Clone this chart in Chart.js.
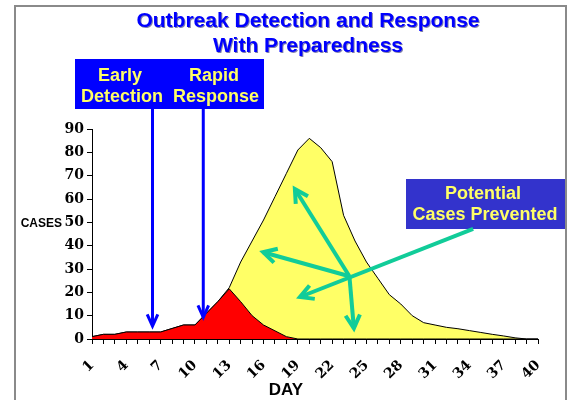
<!DOCTYPE html>
<html>
<head>
<meta charset="utf-8">
<script src="https://cdn.jsdelivr.net/npm/chart.js@4.4.1/dist/chart.umd.min.js"></script>
<style>
  html, body { margin: 0; padding: 0; background: #fff; }
  #chart { display: block; }
</style>
</head>
<body>
<canvas id="chart" width="568" height="400"></canvas>
<script>
'use strict';

// ─── data ─────────────────────────────────────────────────────────────────
const days = [1, 2, 3, 4, 5, 6, 7, 8, 9, 10, 11, 12, 13, 14, 15, 16, 17, 18, 19, 20,
              21, 22, 23, 24, 25, 26, 27, 28, 29, 30, 31, 32, 33, 34, 35, 36, 37, 38, 39, 40];
const labelDays = [1, 4, 7, 10, 13, 16, 19, 22, 25, 28, 31, 34, 37, 40];

// cases with preparedness (red)
const withPrep = [1, 2, 2, 3, 3, 3, 3, 4.5, 6, 6, 11, 16, 21.5, 16, 10, 6, 3.5, 1, 0, 0,
                  0, 0, 0, 0, 0, 0, 0, 0, 0, 0, 0, 0, 0, 0, 0, 0, 0, 0, 0, 0];
// cases without preparedness (yellow)
const withoutPrep = [1, 2, 2, 3, 3, 3, 3, 4.5, 6, 6, 11, 16, 22, 33, 42, 51, 61, 71, 81, 86,
                     82, 76, 53, 42, 33, 26, 19, 15, 10, 7, 6, 5, 4.4, 3.6, 2.8, 2, 1.3, 0.5, 0, 0];

const yMin = 0, yMax = 90, yStep = 10;

// ─── annotations: arrows in (day, cases) ─────────────────────────────────
const earlyArrow = { day: 6.29, tip: 5.5 };
const rapidArrow = { day: 10.73, tip: 9.3 };
const greenTail  = { day: 34.33, cases: 47.2 };
const greenHub   = { day: 23.51, cases: 26.9 };
const greenTips  = [
  { day: 19.18, cases: 18.0, fromTail: true },
  { day: 18.74, cases: 64.3 },
  { day: 15.97, cases: 37.2 },
  { day: 23.9,  cases: 4.6 }
];

const BLUE   = '#0000FF';
const YELLOW_TXT = '#FFFF66';
const GREEN  = '#11CC99';
const SANS   = '"Liberation Sans", Arial, sans-serif';

function drawArrow(ctx, x1, y1, x2, y2, color, width, head, spread) {
  const ang = Math.atan2(y2 - y1, x2 - x1);
  ctx.save();
  ctx.strokeStyle = color;
  ctx.lineWidth = width;
  ctx.lineJoin = 'miter';
  ctx.beginPath();
  ctx.moveTo(x1, y1);
  ctx.lineTo(x2, y2);
  ctx.stroke();
  ctx.beginPath();
  ctx.moveTo(x2 - head * Math.cos(ang - spread), y2 - head * Math.sin(ang - spread));
  ctx.lineTo(x2, y2);
  ctx.lineTo(x2 - head * Math.cos(ang + spread), y2 - head * Math.sin(ang + spread));
  ctx.stroke();
  ctx.restore();
}

function textLines(ctx, lines, font, color, align) {
  ctx.save();
  ctx.font = font;
  ctx.fillStyle = color;
  ctx.textAlign = align || 'center';
  ctx.textBaseline = 'alphabetic';
  lines.forEach(l => ctx.fillText(l[0], l[1], l[2]));
  ctx.restore();
}

// ─── slide decorations (frame, title, boxes, arrows) ────────────────────
const slidePlugin = {
  id: 'slide',
  afterDraw(chart) {
    const ctx = chart.ctx;
    const xs = chart.scales.x, ys = chart.scales.y;
    const px = d => xs.getPixelForValue(d - 1);
    const py = v => ys.getPixelForValue(v);

    // frame
    ctx.save();
    ctx.strokeStyle = '#8a8a8a';
    ctx.lineWidth = 2;
    ctx.beginPath();
    ctx.moveTo(15, 402); ctx.lineTo(15, 6); ctx.lineTo(566, 6); ctx.lineTo(566, 402);
    ctx.stroke();
    ctx.restore();

    // title
    ctx.save();
    ctx.shadowColor = 'rgba(0,0,90,0.5)';
    ctx.shadowOffsetX = 1;
    ctx.shadowOffsetY = 1;
    textLines(ctx, [
      ['Outbreak Detection and Response', 308, 27],
      ['With Preparedness', 308, 52]
    ], 'bold 21px ' + SANS, BLUE);
    ctx.restore();

    // left box
    ctx.fillStyle = BLUE;
    ctx.fillRect(75, 59, 189, 50);
    textLines(ctx, [
      ['Early', 120, 81], ['Detection', 122, 101.5],
      ['Rapid', 214, 81], ['Response', 216, 101.5]
    ], 'bold 18px ' + SANS, YELLOW_TXT);

    // right box
    ctx.fillStyle = '#3333CC';
    ctx.fillRect(406, 179, 159, 50);
    textLines(ctx, [
      ['Potential', 483, 199], ['Cases Prevented', 485, 220]
    ], 'bold 18px ' + SANS, YELLOW_TXT);

    // blue arrows
    drawArrow(ctx, px(earlyArrow.day), 109, px(earlyArrow.day), py(earlyArrow.tip), BLUE, 3, 13, 0.42);
    drawArrow(ctx, px(rapidArrow.day), 109, px(rapidArrow.day), py(rapidArrow.tip), BLUE, 3, 13, 0.42);

    // green arrows
    greenTips.forEach(t => {
      const from = t.fromTail ? greenTail : greenHub;
      drawArrow(ctx, px(from.day), py(from.cases), px(t.day), py(t.cases), GREEN, 4, 15, 0.5);
    });

    // axis titles
    textLines(ctx, [['CASES', 62, py(50) + 4.5]], 'bold 12px ' + SANS, '#000', 'right');
    textLines(ctx, [['DAY', 286, 395]], 'bold 17px ' + SANS, '#000');
  }
};

new Chart(document.getElementById('chart'), {
  type: 'line',
  data: {
    labels: days,
    datasets: [
      {
        label: 'With preparedness',
        data: withPrep,
        backgroundColor: '#FF0000',
        borderColor: '#000',
        borderWidth: 1,
        fill: 'origin',
        pointRadius: 0,
        tension: 0
      },
      {
        label: 'Without preparedness',
        data: withoutPrep,
        backgroundColor: '#FFFF66',
        borderColor: '#000',
        borderWidth: 1,
        fill: 'origin',
        pointRadius: 0,
        tension: 0
      }
    ]
  },
  options: {
    responsive: false,
    animation: false,
    layout: { padding: { top: 129, right: 30, bottom: 0, left: 0 } },
    plugins: {
      legend: { display: false },
      tooltip: { enabled: false }
    },
    scales: {
      x: {
        offset: false,
        afterFit: s => { s.height = 61; },
        border: { color: '#000', width: 1 },
        grid: { drawOnChartArea: false, drawTicks: true, tickLength: 5, color: '#000' },
        ticks: {
          autoSkip: false,
          minRotation: 45,
          maxRotation: 45,
          padding: 13,
          color: '#000',
          font: { family: '"DejaVu Serif", serif', weight: 'bold', size: 14 },
          callback: function (v, i) {
            const d = days[i];
            return labelDays.includes(d) ? String(d) : '';
          }
        }
      },
      y: {
        min: yMin,
        max: yMax,
        afterFit: s => { s.width = 92; },
        border: { color: '#000', width: 1 },
        grid: { drawOnChartArea: false, drawTicks: true, tickLength: 5, color: '#000' },
        ticks: {
          stepSize: yStep,
          padding: 3,
          color: '#000',
          font: { family: '"DejaVu Serif", serif', weight: 'bold', size: 14 }
        }
      }
    }
  },
  plugins: [slidePlugin]
});
</script>
</body>
</html>
